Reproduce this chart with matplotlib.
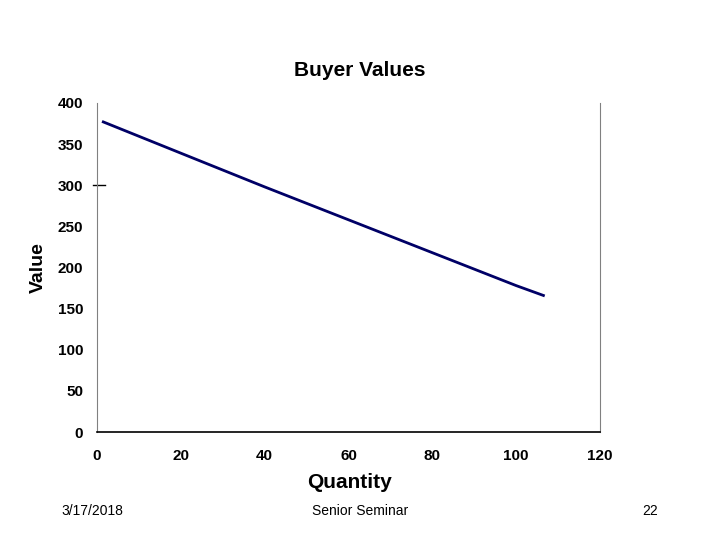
import matplotlib.pyplot as plt
import matplotlib.transforms as mtransforms

plt.rcParams['font.family'] = ['Liberation Sans', 'DejaVu Sans']

# values
quantity = [1.5, 20, 40, 60, 80, 100, 106.5]
value = [377, 339, 298, 258, 218, 178, 166]

xticks = [0, 20, 40, 60, 80, 100, 120]
yticks = [0, 50, 100, 150, 200, 250, 300, 350, 400]

fig = plt.figure(figsize=(7.2, 5.4), dpi=100)
ax = fig.add_axes([97 / 720, 1 - 432 / 540, 503 / 720, 329 / 540])

ax.plot(quantity, value, color='#000066', lw=2)

ax.set_xlim(0, 120)
ax.set_ylim(0, 400)
ax.set_xticks(xticks)
ax.set_yticks(yticks)
ax.set_xticklabels([str(t) for t in xticks], fontsize=11, fontweight='bold')
ax.set_yticklabels([str(t) for t in yticks], fontsize=11, fontweight='bold')
ax.tick_params(length=0)
ax.tick_params(axis='x', pad=12)
ax.tick_params(axis='y', pad=10)

ax.spines['top'].set_visible(False)
ax.spines['left'].set_color('#808080')
ax.spines['right'].set_color('#808080')
ax.spines['bottom'].set_color('black')
ax.spines['bottom'].set_linewidth(1.2)

# stray tick mark at 300
trans = mtransforms.blended_transform_factory(ax.transAxes, ax.transData)
ax.plot([-0.008, 0.016], [300, 300], color='black', lw=1, transform=trans, clip_on=False)

fig.text(360 / 720, 1 - 70 / 540, 'Buyer Values', ha='center', va='center', fontsize=15, fontweight='bold')
fig.text(350 / 720, 1 - 483 / 540, 'Quantity', ha='center', va='center', fontsize=15, fontweight='bold')
fig.text(38 / 720, 1 - 268 / 540, 'Value', ha='center', va='center', fontsize=14, fontweight='bold', rotation=90)

fig.text(92 / 720, 1 - 511 / 540, '3/17/2018', ha='center', va='center', fontsize=10)
fig.text(360 / 720, 1 - 511 / 540, 'Senior Seminar', ha='center', va='center', fontsize=10)
fig.text(650 / 720, 1 - 511 / 540, '22', ha='center', va='center', fontsize=10)

fig.savefig('out.png', dpi=100)
